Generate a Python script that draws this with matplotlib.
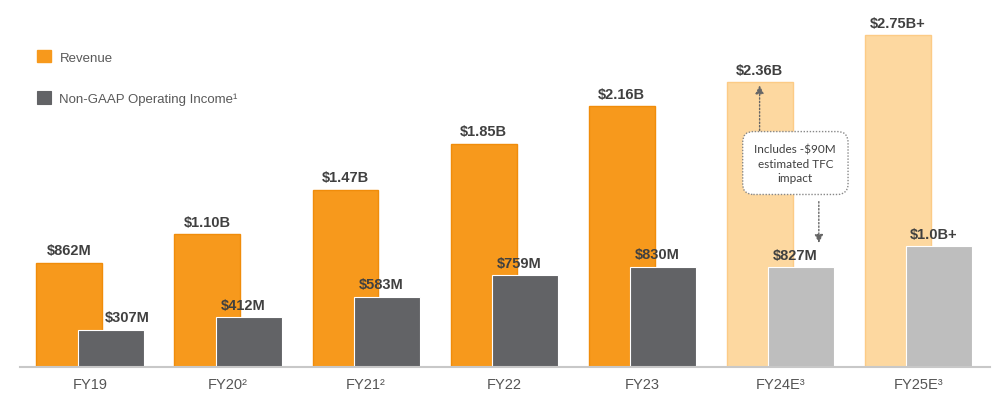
import numpy as np
import matplotlib.pyplot as plt

# fiscal years and values ($M)
years = ["FY19", "FY20²", "FY21²", "FY22", "FY23", "FY24E³", "FY25E³"]
revenue = [862, 1100, 1470, 1850, 2160, 2360, 2750]
op_income = [307, 412, 583, 759, 830, 827, 1000]
rev_labels = ["$862M", "$1.10B", "$1.47B", "$1.85B", "$2.16B", "$2.36B", "$2.75B+"]
inc_labels = ["$307M", "$412M", "$583M", "$759M", "$830M", "$827M", "$1.0B+"]
is_estimate = [False, False, False, False, False, True, True]

ORANGE = "#F7991C"
ORANGE_EDGE = "#F08C0A"
LIGHT_ORANGE = "#FDD8A0"
LIGHT_ORANGE_EDGE = "#FCCB86"
GRAY = "#626366"
LIGHT_GRAY = "#BEBEBE"
TEXT = "#404040"

fig = plt.figure(figsize=(10, 4.02), dpi=100)
ax = fig.add_axes([0.02, 1 - 368 / 402, 0.97, 368 / 402])

x = np.arange(len(years))
w = 0.478
off = 0.149

rev_fc = [LIGHT_ORANGE if e else ORANGE for e in is_estimate]
rev_ec = [LIGHT_ORANGE_EDGE if e else ORANGE_EDGE for e in is_estimate]
inc_fc = [LIGHT_GRAY if e else GRAY for e in is_estimate]

b1 = ax.bar(x - off, revenue, w, color=rev_fc, edgecolor=rev_ec, linewidth=1, label="Revenue", zorder=2)
b2 = ax.bar(x + off, op_income, w, color=inc_fc, edgecolor="white", linewidth=0.8,
            label="Non-GAAP Operating Income¹", zorder=3)

for i in range(len(x)):
    ax.annotate(rev_labels[i], (x[i] - off, revenue[i]), xytext=(0, 4), textcoords="offset points",
                ha="center", va="bottom", fontsize=10.5, fontweight="bold", color=TEXT,
                family="Liberation Sans")
    ax.annotate(inc_labels[i], (x[i] + off, op_income[i]), xytext=(-4 if i else 12, 4),
                textcoords="offset points", ha="center", va="bottom", fontsize=10.5,
                fontweight="bold", color=TEXT, family="Liberation Sans")

# TFC impact callout
bx, by = 5.11, 1690
ax.text(bx, by, "Includes -$90M\nestimated TFC\nimpact", ha="center", va="center", fontsize=8.5,
        color=TEXT, family="Lato", linespacing=1.35, zorder=5,
        bbox=dict(boxstyle="round,pad=1.0,rounding_size=0.9", fc="white", ec="#888888",
                  ls=(0, (1, 1.2)), lw=1))
ax.annotate("", xy=(5 - off, revenue[5] - 25), xytext=(5 - off, 1960),
            arrowprops=dict(arrowstyle="-|>,head_length=0.5,head_width=0.25", color="#666666",
                            ls=(0, (1, 1.5)), lw=1, shrinkA=0, shrinkB=0), zorder=4)
ax.annotate("", xy=(5 + 0.28, op_income[5] + 200), xytext=(5 + 0.28, 1370),
            arrowprops=dict(arrowstyle="-|>,head_length=0.5,head_width=0.25", color="#666666",
                            ls=(0, (1, 1.5)), lw=1, shrinkA=0, shrinkB=0), zorder=4)

ax.set_xlim(-0.507, 6.52)
ax.set_ylim(0, 3049)
ax.set_yticks([])
ax.set_xticks(x)
ax.set_xticklabels(years, fontsize=10.5, color="#555555", family="Liberation Sans")
ax.tick_params(axis="x", length=0, pad=7)
for s in ["top", "right", "left"]:
    ax.spines[s].set_visible(False)
ax.spines["bottom"].set_color("#C8C8C8")
ax.spines["bottom"].set_linewidth(1.5)
ax.spines["bottom"].set_zorder(4)

leg = fig.legend(handles=[b1, b2], labels=["Revenue", "Non-GAAP Operating Income¹"],
                 loc="upper left", bbox_to_anchor=(0.037, 1 - 51 / 402), frameon=False,
                 handlelength=1.05, handleheight=1.05, handletextpad=0.65,
                 labelspacing=2.1, borderpad=0, borderaxespad=0, labelcolor="#595959",
                 prop={"family": "Liberation Sans", "size": 9.5})
leg.legend_handles[0].set_color(ORANGE)
leg.legend_handles[1].set_color(GRAY)

fig.savefig("out.png", dpi=100)
